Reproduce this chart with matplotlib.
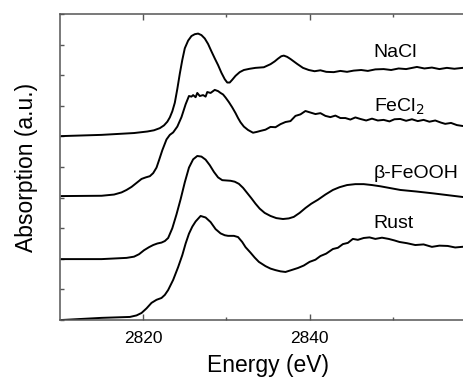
import matplotlib
matplotlib.use("Agg")
import matplotlib.pyplot as plt
from matplotlib.ticker import FixedLocator, MultipleLocator

plt.rcParams["font.family"] = ["Liberation Sans", "DejaVu Sans"]

# S K-edge XANES spectra (energy eV, offset absorption a.u.)
e_nacl = [2810.2, 2815.0, 2818.9, 2820.5, 2821.3, 2822.0, 2822.5, 2822.9, 2823.2,
          2823.5, 2823.8, 2824.1, 2824.4, 2824.7, 2825.0, 2825.4, 2825.8, 2826.2,
          2826.6, 2827.0, 2827.4, 2827.8, 2828.2, 2828.6, 2829.0, 2829.4, 2829.8,
          2830.1, 2830.4, 2830.7, 2831.1, 2831.6, 2832.1, 2832.8, 2833.5, 2834.5,
          2835.3, 2835.8, 2836.2, 2836.6, 2836.9, 2837.3, 2837.7, 2838.1, 2838.5,
          2839.2, 2839.9, 2840.6, 2841.3, 2842.0, 2842.9, 2843.7, 2844.5, 2845.3,
          2846.2, 2847.0, 2847.9, 2848.9, 2849.8, 2850.7, 2851.6, 2852.9, 2853.8,
          2854.7, 2855.6, 2856.5, 2857.4, 2858.4, 2859.3, 2860.0]
a_nacl = [6.01, 6.05, 6.11, 6.16, 6.20, 6.27, 6.36, 6.48, 6.62,
          6.82, 7.10, 7.55, 8.05, 8.50, 8.88, 9.13, 9.28, 9.34,
          9.36, 9.31, 9.20, 9.02, 8.78, 8.55, 8.33, 8.08, 7.87,
          7.76, 7.76, 7.85, 7.98, 8.10, 8.17, 8.21, 8.24, 8.26,
          8.36, 8.45, 8.54, 8.62, 8.64, 8.60, 8.53, 8.45, 8.37,
          8.24, 8.17, 8.13, 8.16, 8.11, 8.10, 8.14, 8.11, 8.15,
          8.17, 8.14, 8.19, 8.20, 8.17, 8.22, 8.20, 8.27, 8.22,
          8.25, 8.20, 8.24, 8.21, 8.24, 8.20, 8.22]

e_fecl2 = [2810.2, 2815.0, 2816.5, 2817.4, 2818.0, 2818.6, 2819.2, 2819.8, 2820.3,
           2820.8, 2821.2, 2821.6, 2821.9, 2822.3, 2822.8, 2823.2, 2823.6, 2824.1,
           2824.6, 2825.1, 2825.5, 2825.8, 2826.0, 2826.3, 2826.5, 2826.8, 2827.2,
           2827.5, 2827.7, 2828.1, 2828.4, 2828.6, 2829.0, 2829.3, 2829.6, 2829.9,
           2830.3, 2830.7, 2831.1, 2831.4, 2831.7, 2832.1, 2832.6, 2833.2, 2833.7,
           2834.1, 2834.7, 2835.3, 2835.9, 2836.5, 2837.1, 2837.7, 2838.3, 2838.9,
           2839.5, 2840.1, 2840.7, 2841.3, 2841.9, 2842.5, 2843.1, 2843.7, 2844.3,
           2844.9, 2845.5, 2846.1, 2846.8, 2847.5, 2848.2, 2848.9, 2849.6, 2850.2,
           2850.9, 2851.6, 2852.3, 2853.0, 2853.7, 2854.4, 2855.1, 2855.8, 2856.3,
           2857.0, 2857.7, 2858.4, 2859.2, 2860.0]
a_fecl2 = [4.05, 4.06, 4.10, 4.17, 4.25, 4.35, 4.48, 4.61, 4.66,
           4.70, 4.80, 4.98, 5.22, 5.55, 5.90, 6.05, 6.13, 6.32,
           6.63, 7.05, 7.32, 7.30, 7.35, 7.28, 7.42, 7.32, 7.35,
           7.30, 7.45, 7.42, 7.48, 7.52, 7.48, 7.42, 7.37, 7.27,
           7.12, 6.95, 6.76, 6.60, 6.46, 6.32, 6.21, 6.12, 6.15,
           6.18, 6.22, 6.31, 6.30, 6.40, 6.47, 6.50, 6.67, 6.72,
           6.83, 6.78, 6.73, 6.76, 6.67, 6.63, 6.68, 6.60, 6.60,
           6.55, 6.62, 6.57, 6.52, 6.58, 6.52, 6.54, 6.49, 6.56,
           6.57, 6.51, 6.56, 6.50, 6.54, 6.48, 6.52, 6.45, 6.41,
           6.44, 6.37, 6.34, 6.36, 6.33]

e_feooh = [2810.2, 2815.0, 2818.0, 2818.9, 2819.5, 2820.1, 2820.7, 2821.2, 2821.7,
           2822.2, 2822.6, 2823.0, 2823.5, 2824.0, 2824.5, 2825.0, 2825.5, 2826.0,
           2826.5, 2827.0, 2827.5, 2828.0, 2828.5, 2829.0, 2829.5, 2830.0, 2830.5,
           2831.0, 2831.5, 2832.0, 2832.5, 2833.0, 2833.5, 2834.0, 2834.6, 2835.3,
           2836.0, 2836.8, 2837.5, 2838.1, 2838.8, 2839.5, 2840.2, 2841.0, 2841.9,
           2842.8, 2843.6, 2844.5, 2845.5, 2846.5, 2847.5, 2848.5, 2849.7, 2850.9,
           2852.8, 2854.8, 2856.6, 2858.4, 2860.0]
a_feooh = [1.99, 1.99, 2.03, 2.07, 2.15, 2.28, 2.38, 2.45, 2.50,
           2.53, 2.58, 2.68, 3.00, 3.45, 3.95, 4.50, 4.98, 5.25,
           5.36, 5.34, 5.24, 5.06, 4.84, 4.66, 4.57, 4.56, 4.55,
           4.52, 4.45, 4.32, 4.15, 3.98, 3.80, 3.64, 3.50, 3.40,
           3.33, 3.30, 3.32, 3.37, 3.50, 3.66, 3.80, 3.93, 4.10,
           4.25, 4.34, 4.41, 4.44, 4.44, 4.41, 4.37, 4.31, 4.25,
           4.20, 4.14, 4.08, 4.02, 3.98]

e_rust = [2810.2, 2815.0, 2818.4, 2819.2, 2819.8, 2820.4, 2821.0, 2821.6, 2822.2,
          2822.6, 2823.0, 2823.6, 2824.2, 2824.7, 2825.1, 2825.5, 2825.9, 2826.3,
          2826.9, 2827.5, 2828.1, 2828.7, 2829.3, 2829.8, 2830.2, 2830.9, 2831.4,
          2831.9, 2832.3, 2832.9, 2833.4, 2833.9, 2834.7, 2835.3, 2835.9, 2836.5,
          2837.1, 2837.8, 2838.6, 2839.3, 2840.0, 2840.7, 2841.3, 2842.0, 2842.8,
          2843.4, 2844.0, 2844.6, 2845.2, 2845.8, 2846.5, 2847.2, 2847.9, 2848.7,
          2849.5, 2850.2, 2850.8, 2851.7, 2852.7, 2853.7, 2854.7, 2855.6, 2856.6,
          2857.5, 2858.3, 2859.2, 2860.0]
a_rust = [0.00, 0.07, 0.10, 0.15, 0.23, 0.38, 0.56, 0.66, 0.72,
          0.82, 0.98, 1.31, 1.73, 2.12, 2.50, 2.82, 3.05, 3.22,
          3.40, 3.35, 3.20, 2.97, 2.83, 2.77, 2.75, 2.75, 2.71,
          2.55, 2.38, 2.20, 2.04, 1.90, 1.76, 1.68, 1.63, 1.59,
          1.57, 1.63, 1.70, 1.78, 1.90, 1.97, 2.09, 2.17, 2.32,
          2.36, 2.48, 2.52, 2.65, 2.62, 2.68, 2.70, 2.65, 2.69,
          2.65, 2.60, 2.55, 2.51, 2.45, 2.47, 2.39, 2.43, 2.42,
          2.37, 2.39, 2.41, 2.38]

series = [(e_nacl, a_nacl), (e_fecl2, a_fecl2), (e_feooh, a_feooh), (e_rust, a_rust)]
labels = ["NaCl", "FeCl$_2$", "β-FeOOH", "Rust"]
label_y = [8.75, 6.95, 4.8, 3.15]
label_x = 2847.7

fig = plt.figure(figsize=(4.64, 3.78), dpi=100)
# axes runs a little past the right edge, as in the cropped original
ax = fig.add_axes([60 / 464, 58 / 378, 416 / 464, 306 / 378])

for e, a in series:
    ax.plot(e, a, color="black", lw=1.4, solid_joinstyle="round")
for txt, y in zip(labels, label_y):
    ax.text(label_x, y, txt, fontsize=14, ha="left", va="center")

ax.set_xlim(2810, 2860)
ax.set_ylim(0, 10)
ax.xaxis.set_major_locator(FixedLocator([2820, 2840]))
ax.xaxis.set_minor_locator(FixedLocator([2830, 2850]))
ax.yaxis.set_major_locator(MultipleLocator(1))
ax.set_yticklabels([])
ax.tick_params(axis="x", which="major", direction="in", top=True, length=4.5,
               width=1, labelsize=12.5, pad=8, color="#555555")
ax.tick_params(axis="x", which="minor", direction="in", top=True, length=2.5,
               width=1, color="#555555")
ax.tick_params(axis="y", direction="in", length=3, width=1, color="#555555")
for s in ax.spines.values():
    s.set_color("#555555")
    s.set_linewidth(1.1)

ax.set_xlabel("Energy (eV)", fontsize=16.5, labelpad=6)
ax.set_ylabel("Absorption (a.u.)", fontsize=16.5, labelpad=12)

fig.savefig("out.png", dpi=100, facecolor="white")
